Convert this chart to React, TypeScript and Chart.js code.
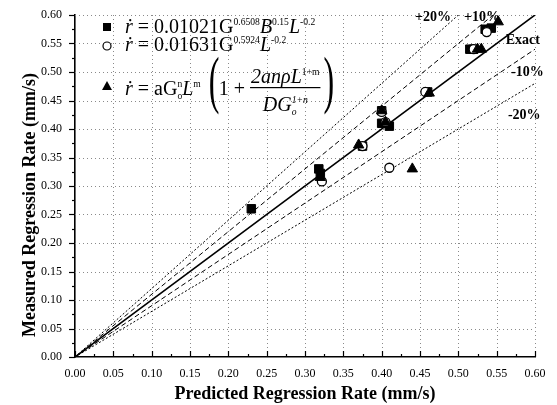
import React, { useEffect, useRef } from "react";
import { Chart, registerables } from "chart.js";

Chart.register(...registerables);

// ---------- data ----------
const AXIS_MIN = 0;
const AXIS_MAX = 0.6;
const majorTicks = [0, 0.05, 0.1, 0.15, 0.2, 0.25, 0.3, 0.35, 0.4, 0.45, 0.5, 0.55, 0.6];

const squarePredicted = [0.23, 0.318, 0.32, 0.375, 0.4, 0.4, 0.41, 0.46, 0.515, 0.52, 0.535, 0.543];
const squareMeasured = [0.26, 0.33, 0.322, 0.37, 0.432, 0.41, 0.405, 0.465, 0.54, 0.54, 0.575, 0.577];

const circlePredicted = [0.322, 0.375, 0.4, 0.405, 0.41, 0.457, 0.52, 0.537];
const circleMeasured = [0.308, 0.37, 0.43, 0.412, 0.332, 0.465, 0.54, 0.57];

const trianglePredicted = [0.32, 0.37, 0.4, 0.405, 0.44, 0.462, 0.525, 0.53, 0.552];
const triangleMeasured = [0.315, 0.372, 0.432, 0.412, 0.33, 0.463, 0.54, 0.54, 0.588];

const refLineRatios = [1.0, 1.1, 0.9, 1.2, 0.8];
const refLineLabels = ["Exact", "+10%", "-10%", "+20%", "-20%"];

const xTitle = "Predicted Regression Rate (mm/s)";
const yTitle = "Measured Regression Rate (mm/s)";

// label anchors (data units) for the reference-line labels
const refLabelX = [0.584, 0.531, 0.59, 0.467, 0.586];
const refLabelY = [0.556, 0.596, 0.5, 0.596, 0.423];

// ---------- drawing helpers ----------
const FONT = '"Liberation Serif", "Times New Roman", serif';

type Seg = { t: string; it?: boolean; pos?: "sup" | "sub"; stack?: boolean };

function drawRich(ctx: CanvasRenderingContext2D, x: number, y: number, segs: Seg[], size: number) {
  let cx = x;
  let prevStart = x;
  for (const s of segs) {
    const small = s.pos === "sup" || s.pos === "sub";
    const fs = small ? size * 0.48 : size;
    ctx.font = `${s.it ? "italic " : ""}${fs}px ${FONT}`;
    const dy = s.pos === "sup" ? -size * 0.42 : s.pos === "sub" ? size * 0.2 : 0;
    const start = s.stack ? prevStart : cx;
    ctx.fillText(s.t, start, y + dy);
    const w = ctx.measureText(s.t).width;
    cx = s.stack ? Math.max(cx, start + w) : start + w;
    prevStart = start;
  }
  return cx;
}

function measureRich(ctx: CanvasRenderingContext2D, segs: Seg[], size: number) {
  let cx = 0;
  let prevStart = 0;
  for (const s of segs) {
    const small = s.pos === "sup" || s.pos === "sub";
    const fs = small ? size * 0.48 : size;
    ctx.font = `${s.it ? "italic " : ""}${fs}px ${FONT}`;
    const start = s.stack ? prevStart : cx;
    const w = ctx.measureText(s.t).width;
    cx = s.stack ? Math.max(cx, start + w) : start + w;
    prevStart = start;
  }
  return cx;
}

function bigParen(ctx: CanvasRenderingContext2D, ch: string, x: number, baseline: number) {
  ctx.save();
  ctx.translate(x, baseline);
  ctx.scale(0.5, 1);
  ctx.font = `64px ${FONT}`;
  ctx.textAlign = "left";
  ctx.fillText(ch, 0, 0);
  ctx.restore();
}

const overlayPlugin = {
  id: "overlay",
  beforeDatasetsDraw(chart: any) {
    const { ctx, chartArea, scales } = chart;
    const { left, right, top, bottom } = chartArea;
    ctx.save();
    ctx.strokeStyle = "#8a8a8a";
    ctx.lineWidth = 1;
    ctx.setLineDash([1, 3]);
    for (const v of majorTicks) {
      if (v === AXIS_MIN) continue;
      const px = Math.round(scales.x.getPixelForValue(v)) + 0.5;
      ctx.beginPath();
      ctx.moveTo(px, top);
      ctx.lineTo(px, bottom);
      ctx.stroke();
      const py = Math.round(scales.y.getPixelForValue(v)) + 0.5;
      ctx.beginPath();
      ctx.moveTo(left, py);
      ctx.lineTo(right, py);
      ctx.stroke();
    }
    ctx.restore();
  },
  afterDraw(chart: any) {
    const { ctx, chartArea, scales } = chart;
    const { left, top, bottom } = chartArea;
    ctx.save();
    // tick marks
    ctx.strokeStyle = "#000";
    ctx.lineWidth = 1.2;
    ctx.setLineDash([]);
    const minors: number[] = [];
    for (let i = 0; i < majorTicks.length - 1; i++) minors.push((majorTicks[i] + majorTicks[i + 1]) / 2);
    const drawTicks = (vals: number[], len: number) => {
      for (const v of vals) {
        const py = Math.round(scales.y.getPixelForValue(v)) + 0.5;
        ctx.beginPath();
        ctx.moveTo(left - len, py);
        ctx.lineTo(left, py);
        ctx.stroke();
        const px = Math.round(scales.x.getPixelForValue(v)) + 0.5;
        ctx.beginPath();
        ctx.moveTo(px, bottom);
        ctx.lineTo(px, bottom - len);
        ctx.stroke();
      }
    };
    drawTicks(majorTicks, 6);
    drawTicks(minors, 3);

    // y axis title (placed like the original, slightly below centre)
    ctx.save();
    ctx.fillStyle = "#000";
    ctx.font = `bold 18px ${FONT}`;
    ctx.textAlign = "center";
    ctx.textBaseline = "middle";
    ctx.translate(left - 45, top + 190);
    ctx.rotate(-Math.PI / 2);
    ctx.fillText(yTitle, 0, 0);
    ctx.restore();

    // reference line labels
    ctx.fillStyle = "#000";
    ctx.font = `bold 14px ${FONT}`;
    ctx.textAlign = "center";
    ctx.textBaseline = "middle";
    refLineLabels.forEach((lab, i) => {
      ctx.fillText(lab, scales.x.getPixelForValue(refLabelX[i]), scales.y.getPixelForValue(refLabelY[i]));
    });

    // legend (formulas)
    const ox = left;
    const oy = top;
    const mx = ox + 32;
    ctx.fillStyle = "#000";
    ctx.fillRect(mx - 4, oy + 12 - 4, 8, 8);
    ctx.beginPath();
    ctx.arc(mx, oy + 31, 4, 0, Math.PI * 2);
    ctx.fillStyle = "#fff";
    ctx.fill();
    ctx.strokeStyle = "#000";
    ctx.lineWidth = 1.2;
    ctx.stroke();
    ctx.fillStyle = "#000";
    ctx.beginPath();
    ctx.moveTo(mx, oy + 66);
    ctx.lineTo(mx + 5, oy + 75);
    ctx.lineTo(mx - 5, oy + 75);
    ctx.closePath();
    ctx.fill();

    ctx.textAlign = "left";
    ctx.textBaseline = "alphabetic";
    const tx = ox + 50;
    const fs = 20;
    drawRich(ctx, tx, oy + 18, [
      { t: "ṙ", it: true },
      { t: " = 0.01021G" },
      { t: "0.6508", pos: "sup" },
      { t: "B", it: true },
      { t: "0.15", pos: "sup" },
      { t: "L", it: true },
      { t: "-0.2", pos: "sup" },
    ], fs);
    drawRich(ctx, tx, oy + 36, [
      { t: "ṙ", it: true },
      { t: " = 0.01631G" },
      { t: "0.5924", pos: "sup" },
      { t: "L", it: true },
      { t: "-0.2", pos: "sup" },
    ], fs);
    const base3 = oy + 80;
    let cx = drawRich(ctx, tx, base3, [
      { t: "ṙ", it: true },
      { t: " = aG" },
      { t: "n", pos: "sup" },
      { t: "o", pos: "sub", stack: true },
      { t: "L", it: true },
      { t: "m", pos: "sup" },
    ], fs);
    cx += 8;
    bigParen(ctx, "(", cx, base3 + 6);
    cx += 10;
    cx = drawRich(ctx, cx, base3, [{ t: "1 + " }], fs);
    const num: Seg[] = [{ t: "2anρL", it: true }, { t: "1+m", pos: "sup" }];
    const den: Seg[] = [{ t: "DG", it: true }, { t: "o", it: true, pos: "sub" }, { t: "1+n", it: true, pos: "sup", stack: true }];
    const wN = measureRich(ctx, num, fs);
    const wD = measureRich(ctx, den, fs);
    const wF = Math.max(wN, wD) + 2;
    drawRich(ctx, cx + (wF - wN) / 2, base3 - 12, num, fs);
    ctx.fillRect(cx, base3 - 8, wF, 1.2);
    drawRich(ctx, cx + (wF - wD) / 2, base3 + 16, den, fs);
    cx += wF + 3;
    bigParen(ctx, ")", cx, base3 + 6);
    ctx.restore();
  },
};

function toPoints(xs: number[], ys: number[]) {
  return xs.map((x, i) => ({ x, y: ys[i] }));
}

export default function App() {
  const canvasRef = useRef<HTMLCanvasElement | null>(null);

  useEffect(() => {
    if (!canvasRef.current) return;
    Chart.defaults.font.family = FONT;
    Chart.defaults.color = "#000";

    const refDatasets = refLineRatios.map((r, i) => ({
      type: "line" as const,
      label: refLineLabels[i],
      data: [
        { x: AXIS_MIN, y: r * AXIS_MIN },
        { x: AXIS_MAX, y: r * AXIS_MAX },
      ],
      borderColor: "#000",
      borderWidth: r === 1 ? 1.6 : 1,
      borderDash: r === 1 ? [] : Math.abs(r - 1) < 0.15 ? [5, 3] : [2, 2],
      pointRadius: 0,
      fill: false,
      tension: 0,
    }));

    const chart = new Chart(canvasRef.current, {
      type: "scatter",
      data: {
        datasets: [
          {
            label: "triangle",
            data: toPoints(trianglePredicted, triangleMeasured),
            pointStyle: "triangle",
            pointRadius: 6,
            backgroundColor: "#000",
            borderColor: "#000",
            borderWidth: 1,
          },
          {
            label: "circle",
            data: toPoints(circlePredicted, circleMeasured),
            pointStyle: "circle",
            pointRadius: 4.5,
            backgroundColor: "#fff",
            borderColor: "#000",
            borderWidth: 1.3,
          },
          {
            label: "square",
            data: toPoints(squarePredicted, squareMeasured),
            pointStyle: "rect",
            pointRadius: 6,
            backgroundColor: "#000",
            borderColor: "#000",
            borderWidth: 1,
          },
          ...refDatasets,
        ] as any,
      },
      options: {
        animation: false,
        responsive: true,
        maintainAspectRatio: false,
        layout: { padding: { top: 15, right: 22, left: 0, bottom: 0 } },
        plugins: {
          legend: { display: false },
          tooltip: { enabled: false },
        },
        scales: {
          x: {
            type: "linear",
            min: AXIS_MIN,
            max: AXIS_MAX,
            afterFit: (s: any) => {
              s.height = 48;
              s.paddingLeft = 0;
              s.paddingRight = 0;
            },
            afterBuildTicks: (s: any) => {
              s.ticks = majorTicks.map((v) => ({ value: v }));
            },
            ticks: {
              padding: 10,
              font: { size: 12, family: FONT },
              color: "#000",
              maxRotation: 0,
              autoSkip: false,
              callback: (v: any) => Number(v).toFixed(2),
            },
            grid: { display: false, drawTicks: false },
            border: { display: true, color: "#000", width: 1.6 },
            title: {
              display: true,
              text: xTitle,
              font: { size: 18, weight: "bold", family: FONT },
              color: "#000",
              padding: { top: 0, bottom: 0 },
            },
          },
          y: {
            type: "linear",
            min: AXIS_MIN,
            max: AXIS_MAX,
            afterFit: (s: any) => {
              s.width = 75;
              s.paddingTop = 0;
              s.paddingBottom = 0;
            },
            afterBuildTicks: (s: any) => {
              s.ticks = majorTicks.map((v) => ({ value: v }));
            },
            ticks: {
              padding: 13,
              font: { size: 12, family: FONT },
              color: "#000",
              autoSkip: false,
              callback: (v: any) => Number(v).toFixed(2),
            },
            grid: { display: false, drawTicks: false },
            border: { display: true, color: "#000", width: 1.6 },
            title: { display: false },
          },
        },
      } as any,
      plugins: [overlayPlugin],
    });
    return () => chart.destroy();
  }, []);

  return (
    <div style={{ position: "absolute", left: 0, top: 0, width: 557, height: 405, background: "#fff" }}>
      <canvas ref={canvasRef} />
    </div>
  );
}
